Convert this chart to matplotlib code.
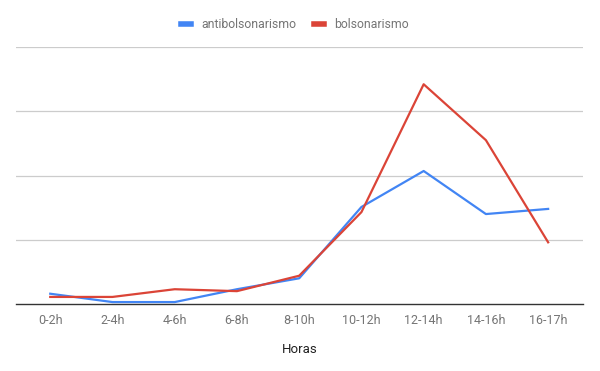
"""Antibolsonarismo vs bolsonarismo by time of day."""

import matplotlib

matplotlib.use("Agg")

import matplotlib.pyplot as plt
import numpy as np

HOURS = ["0-2h", "2-4h", "4-6h", "6-8h", "8-10h", "10-12h", "12-14h", "14-16h", "16-17h"]
ANTI = [0.16, 0.03, 0.03, 0.23, 0.40, 1.51, 2.07, 1.40, 1.48]
BOLSO = [0.11, 0.11, 0.23, 0.20, 0.44, 1.43, 3.42, 2.55, 0.96]

plt.rcParams["font.family"] = ["Roboto", "DejaVu Sans"]

fig = plt.figure(figsize=(6.0, 3.71), dpi=100)
ax = fig.add_axes((16 / 600, 67 / 371, 567 / 600, 257 / 371))

x = np.arange(len(HOURS))
ax.plot(x, ANTI, color="#4285F4", linewidth=1.6, label="antibolsonarismo")
ax.plot(x, BOLSO, color="#DB4437", linewidth=1.6, label="bolsonarismo")

ax.set_xlim(-0.55, len(HOURS) - 0.44)
ax.set_ylim(0, 4)
ax.set_yticks([1, 2, 3, 4])
ax.yaxis.grid(True, color="#CCCCCC", linewidth=0.9)
ax.set_axisbelow(True)
ax.tick_params(axis="y", left=False, labelleft=False)
ax.set_xticks(x)
ax.set_xticklabels(HOURS, fontsize=9, color="#757575")
ax.tick_params(axis="x", length=0, pad=7)
for side in ("top", "right", "left"):
    ax.spines[side].set_visible(False)
ax.spines["bottom"].set_color("#333333")
ax.spines["bottom"].set_linewidth(1.0)
ax.set_xlabel("Horas", fontsize=9.5, color="#222222", labelpad=12)

leg = fig.legend(
    loc="center",
    bbox_to_anchor=(295 / 600, 1 - 24 / 371),
    ncol=2,
    frameon=False,
    fontsize=8.8,
    handlelength=0.8,
    handleheight=0.4,
    columnspacing=1.5,
    handletextpad=0.8,
)
for text in leg.get_texts():
    text.set_color("#757575")
for handle in leg.get_lines():
    handle.set_linewidth(4)

fig.savefig("out.png", dpi=100, facecolor="white")
